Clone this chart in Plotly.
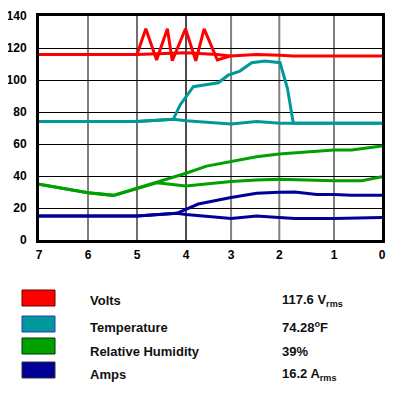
import plotly.graph_objects as go

# ---- data (hours ago vs value) ----
volts_zig_x = [7, 5.0, 4.82, 4.60, 4.38, 4.28, 4.01, 3.80, 3.63, 3.36, 3.10]
volts_zig_y = [116, 116, 132, 112.5, 132, 112, 132, 112, 132, 112.5, 115]
volts_x = [7, 5.0, 4.0, 3.37, 3.10, 2.56, 2.08, 1.82, 1.0, 0]
volts_y = [116, 116, 117, 116, 115, 116, 115.5, 115, 115, 115]

temp_bump_x = [7, 5.0, 4.26, 4.12, 3.85, 3.34, 3.14, 2.90, 2.66, 2.39, 2.08, 1.93, 1.81, 1.0, 0]
temp_bump_y = [74, 74, 75.4, 84.4, 95.8, 98.3, 103, 105.6, 110.8, 111.9, 110.8, 94.8, 73, 73, 73]
temp_x = [7, 5.0, 4.26, 4.0, 3.08, 2.56, 2.08, 1.81, 1.0, 0]
temp_y = [74, 74, 75.4, 74.6, 72.5, 74, 73, 73, 73, 73]

rh_hi_x = [7, 6.0, 5.48, 5.0, 4.60, 4.0, 3.58, 3.08, 2.56, 2.10, 0.98, 0.62, 0]
rh_hi_y = [34.8, 29.6, 27.9, 32.3, 35.8, 41.7, 46.2, 49.2, 52, 53.7, 56.2, 56.2, 58.7]
rh_lo_x = [7, 6.0, 5.48, 5.0, 4.60, 4.0, 3.08, 2.56, 2.10, 0.98, 0.41, 0]
rh_lo_y = [34.8, 29.6, 27.9, 32.3, 35.8, 33.7, 36.5, 37.5, 37.9, 37.1, 37.1, 39.6]

amps_hi_x = [7, 5.0, 4.19, 4.0, 3.75, 3.08, 2.56, 2.10, 1.78, 1.33, 0.98, 0.62, 0]
amps_hi_y = [15, 15, 16.7, 19.2, 22.5, 26.5, 29.2, 29.8, 30, 28.5, 28.5, 28, 28]
amps_lo_x = [7, 5.0, 4.19, 4.0, 3.08, 2.56, 2.10, 1.78, 0.98, 0]
amps_lo_y = [15, 15, 16.7, 16, 13.5, 15, 14, 13.5, 13.5, 14]

x_tick_pos = [7, 6, 5, 4, 3.08, 2.096, 0.98, 0]
x_tick_text = ["7", "6", "5", "4", "3", "2", "1", "0"]
y_ticks = [0, 20, 40, 60, 80, 100, 120, 140]

legend_names = ["Volts", "Temperature", "Relative Humidity", "Amps"]
legend_values = ["117.6 V<sub>rms</sub>", "74.28<sup>o</sup>F", "39%", "16.2 A<sub>rms</sub>"]

RED = "#FF0000"
TEAL = "#009999"
GREEN = "#00A000"
NAVY = "#000099"
colors = [RED, TEAL, GREEN, NAVY]
borders = ["#660000", "#3333CC", "#003300", "#333333"]

fig = go.Figure()

series = [
    (rh_lo_x, rh_lo_y, GREEN), (rh_hi_x, rh_hi_y, GREEN),
    (amps_lo_x, amps_lo_y, NAVY), (amps_hi_x, amps_hi_y, NAVY),
    (temp_x, temp_y, TEAL), (temp_bump_x, temp_bump_y, TEAL),
    (volts_x, volts_y, RED), (volts_zig_x, volts_zig_y, RED),
]
for xs, ys, c in series:
    fig.add_trace(go.Scatter(x=xs, y=ys, mode="lines",
                             line=dict(color=c, width=3),
                             showlegend=False, hoverinfo="skip"))

font = dict(family="Liberation Sans, Arial, sans-serif", size=12, color="#000000", weight="bold")

# page body has an 8px margin: figure starts at (8, 8) on screen
fig.update_layout(
    width=395, height=387,
    margin=dict(l=31, r=21, t=8, b=155),
    paper_bgcolor="white", plot_bgcolor="white",
    showlegend=False,
    xaxis=dict(range=[7, 0], tickmode="array", tickvals=x_tick_pos, ticktext=x_tick_text,
               showgrid=False, zeroline=False, showline=True, linecolor="black",
               linewidth=3, mirror=True, tickfont=font, ticks="", ticklabelstandoff=2,
               automargin=False, layer="above traces"),
    yaxis=dict(range=[0, 140], tickmode="array", tickvals=y_ticks,
               showgrid=True, gridcolor="black", gridwidth=1, zeroline=False,
               showline=True, linecolor="black", linewidth=3, mirror=True,
               tickfont=font, ticks="", ticklabelstandoff=7, automargin=False),
)

# vertical grid lines at the tick positions (grey for 6,3,2,1; black for 5,4)
grid_colors = {6: ("#808080", 2), 5: ("#111111", 1.2), 4: ("#111111", 1.5),
               3: ("#808080", 2), 2: ("#808080", 2), 1: ("#808080", 2)}
for pos, lab in zip(x_tick_pos, x_tick_text):
    k = int(lab)
    if k in grid_colors:
        c, w = grid_colors[k]
        fig.add_shape(type="line", xref="x", yref="paper", x0=pos, x1=pos, y0=0, y1=1,
                      line=dict(color=c, width=w), layer="below")

# legend block (positions relative to the plot area, screen px 39..382 x 16..240)
rect_y = [298, 324, 346, 370]
text_y = [300, 327, 351, 374]
legfont = dict(family="Liberation Sans, Arial, sans-serif", size=13, color="#111111")
for i in range(4):
    fig.add_shape(type="rect", xref="paper", yref="paper",
                  x0=(22 - 39) / 343, x1=(55 - 39) / 343,
                  y0=(240 - (rect_y[i] + 8)) / 224, y1=(240 - (rect_y[i] - 8)) / 224,
                  fillcolor=colors[i], line=dict(color=borders[i], width=1))
    fig.add_annotation(xref="paper", yref="paper", x=(87.5 - 39) / 343,
                       y=(240 - text_y[i]) / 224, text="<b>%s</b>" % legend_names[i],
                       showarrow=False, xanchor="left", yanchor="middle", font=legfont)
    fig.add_annotation(xref="paper", yref="paper", x=(279.5 - 39) / 343,
                       y=(240 - text_y[i]) / 224, text="<b>%s</b>" % legend_values[i],
                       showarrow=False, xanchor="left", yanchor="middle", font=legfont)

fig.write_html("out.html")
